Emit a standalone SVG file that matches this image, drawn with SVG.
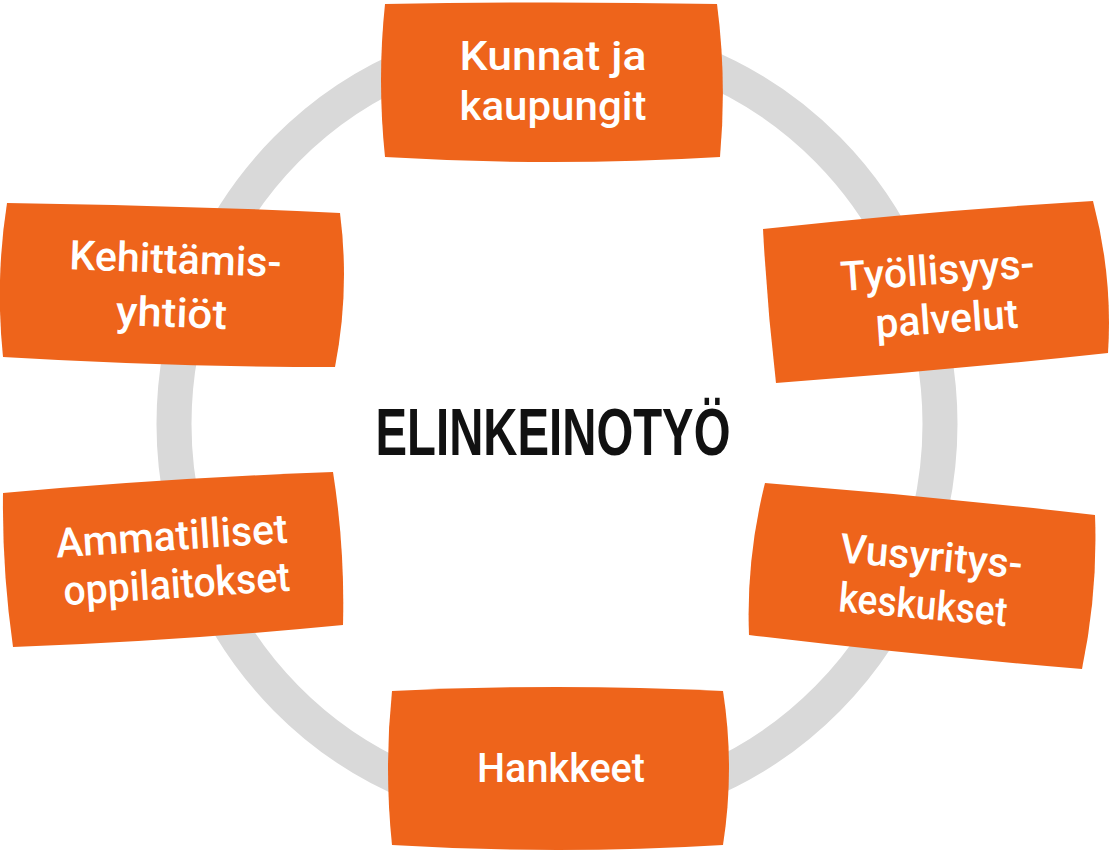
<svg xmlns="http://www.w3.org/2000/svg" width="1109" height="850" viewBox="0 0 1109 850">
<style>
.box{fill:#ee641b;}
.lbl{fill:#ffffff;font-family:Roboto,"Noto Sans",sans-serif;font-size:41px;font-weight:500;text-anchor:middle;}
.title{fill:#111111;font-family:"Liberation Sans","DejaVu Sans",sans-serif;font-size:66px;font-weight:700;text-anchor:middle;}
.ring{fill:none;stroke:#d9d9d9;stroke-width:35;}
</style>
<rect width="1109" height="850" fill="#ffffff"/>
<g id="connectors">
<ellipse class="ring" cx="557" cy="424" rx="383" ry="388"/>
</g>
<g id="node-kunnat">
<path class="box" d="M385,4 Q552,1 717,4 Q727,80 720,157 Q552,167 385,157 Q377,80 385,4 Z"/>
<text class="lbl" x="553" y="70" textLength="187" lengthAdjust="spacingAndGlyphs">Kunnat ja</text>
<text class="lbl" x="553" y="120" textLength="187" lengthAdjust="spacingAndGlyphs">kaupungit</text>
</g>
<g id="node-kehittamis">
<path class="box" d="M7,203 Q173,205 340,213 Q350,290 335,367 Q169,367 3,357 Q-5,280 7,203 Z"/>
<g transform="rotate(2 173 300)">
<text class="lbl" x="174" y="273" textLength="212" lengthAdjust="spacingAndGlyphs">Kehittämis-</text>
<text class="lbl" x="172" y="327" textLength="111" lengthAdjust="spacingAndGlyphs">yhtiöt</text>
</g>
</g>
<g id="node-tyollisyys">
<path class="box" d="M763,229 Q928,211 1093,201 Q1113,277 1108,353 Q942,371 776,383 Q767,306 763,229 Z"/>
<g transform="rotate(-4 942 308)">
<text class="lbl" x="940" y="284" textLength="194" lengthAdjust="spacingAndGlyphs">Työllisyys-</text>
<text class="lbl" x="946" y="333" textLength="143" lengthAdjust="spacingAndGlyphs">palvelut</text>
</g>
</g>
<g id="node-ammatilliset">
<path class="box" d="M3,493 Q168,478 333,472 Q345,548 343,625 Q178,641 13,647 Q2,570 3,493 Z"/>
<g transform="rotate(-3.7 175 573)">
<text class="lbl" x="174" y="550" textLength="232" lengthAdjust="spacingAndGlyphs">Ammatilliset</text>
<text class="lbl" x="176" y="598" textLength="227" lengthAdjust="spacingAndGlyphs">oppilaitokset</text>
</g>
</g>
<g id="node-uusyritys">
<path class="box" d="M765,483 Q930,496 1095,515 Q1098,592 1082,669 Q915,655 749,635 Q746,559 765,483 Z"/>
<g transform="rotate(5 926 594)">
<text class="lbl" x="928" y="570" textLength="183" lengthAdjust="spacingAndGlyphs">Vusyritys-</text>
<text class="lbl" x="924" y="619" textLength="169" lengthAdjust="spacingAndGlyphs">keskukset</text>
</g>
</g>
<g id="node-hankkeet">
<path class="box" d="M392,691 Q557,683 723,691 Q735,768 723,845 Q557,855 392,845 Q384,768 392,691 Z"/>
<text class="lbl" x="561" y="782" textLength="168" lengthAdjust="spacingAndGlyphs">Hankkeet</text>
</g>
<g id="node-center">
<text class="title" x="553" y="455" textLength="355" lengthAdjust="spacingAndGlyphs">ELINKEINOTYÖ</text>
</g>
</svg>
